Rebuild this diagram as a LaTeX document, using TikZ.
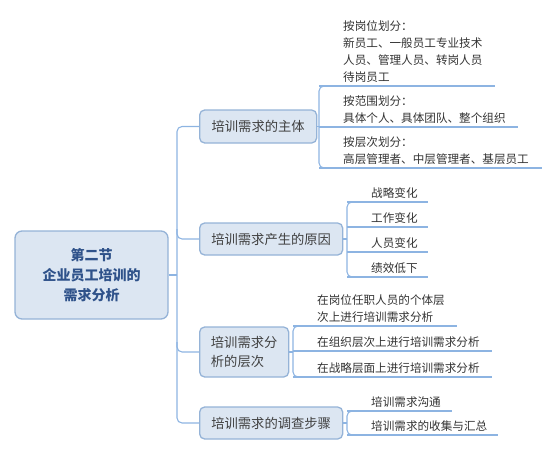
\documentclass[tikz,border=0pt]{standalone}
\usepackage{fontspec}
\setmainfont{Noto Sans CJK SC}
\usetikzlibrary{calc}
\definecolor{lineblue}{HTML}{8DB4E2}
\definecolor{boxfill}{HTML}{DCE6F2}
\definecolor{boxdraw}{HTML}{95B3D7}
\definecolor{titletext}{HTML}{2F528A}
\begin{document}
\begin{tikzpicture}[x=1pt,y=-1pt,
 conn/.style={draw=lineblue, line width=1.1pt, rounded corners=5pt},
 root/.style={draw=boxdraw, fill=boxfill, line width=1.3pt, rounded corners=7pt, minimum width=153pt, minimum height=88pt, align=center, font=\fontsize{14}{20}\selectfont\bfseries, text=titletext, inner sep=0pt},
 branch/.style={draw=boxdraw, fill=boxfill, line width=1.3pt, rounded corners=5pt, anchor=west, inner sep=0pt, font=\fontsize{13.3}{19}\selectfont, text=black!75},
 leaf/.style={anchor=south west, inner xsep=0pt, inner ysep=3pt, align=left, font=\fontsize{11.6}{17}\selectfont, text=black!80},
]
\useasboundingbox (0,0) rectangle (556,455);
% root
\node[root] (root) at (91.5,275) {第二节\\企业员工培训的\\需求分析};
% branches
\node[branch, minimum width=117pt, minimum height=33pt] (n1) at (199,126.5) {培训需求的主体};
\node[branch, minimum width=143pt, minimum height=32pt] (n2) at (199,239) {培训需求产生的原因};
\node[branch, minimum width=89pt, minimum height=50pt, align=left] (n3) at (199,352) {培训需求分\\析的层次};
\node[branch, minimum width=143pt, minimum height=32pt] (n4) at (199,423) {培训需求的调查步骤};
% trunk
\coordinate (tx) at (177,0);
\draw[conn] (root.east) -- (root.east -| tx);
\draw[conn] (n1.west) -- (n1.west -| tx) -- (n4.west -| tx) -- (n4.west);
\draw[conn] ($(n2.west -| tx)+(0,-10)$) -- (n2.west -| tx) -- (n2.west);
\draw[conn] ($(n3.west -| tx)+(0,-10)$) -- (n3.west -| tx) -- (n3.west);
% leaves of n1
\node[leaf, text width=152pt] (a1) at (343,86) {按岗位划分：\\新员工、一般员工专业技术\\人员、管理人员、转岗人员\\待岗员工};
\node[leaf, text width=175pt] (a2) at (343,127) {按范围划分：\\具体个人、具体团队、整个组织};
\node[leaf, text width=199pt] (a3) at (343,168) {按层次划分：\\高层管理者、中层管理者、基层员工};
\coordinate (b1) at ($(a1.south west)+(-24,0)$);
\foreach \n in {a1,a2,a3} \draw[conn] ($(\n.south west)+(-24,0)$) -- (\n.south east);
\draw[conn] ($(a1.south west)+(-12,0)$) -- (b1) -- ($(a3.south west)+(-24,0)$) -- ($(a3.south west)+(-12,0)$);
\draw[conn] (n1.east) -- (n1.east -| b1);
% leaves of n2
\node[leaf, text width=57pt] (c1) at (371,202) {战略变化};
\node[leaf, text width=57pt] (c2) at (371,227) {工作变化};
\node[leaf, text width=57pt] (c3) at (371,252) {人员变化};
\node[leaf, text width=57pt] (c4) at (371,277) {绩效低下};
\coordinate (b2) at ($(c1.south west)+(-24,0)$);
\foreach \n in {c1,c2,c3,c4} \draw[conn] ($(\n.south west)+(-24,0)$) -- (\n.south east);
\draw[conn] ($(c1.south west)+(-12,0)$) -- (b2) -- ($(c4.south west)+(-24,0)$) -- ($(c4.south west)+(-12,0)$);
\draw[conn] (n2.east) -- (n2.east -| b2);
% leaves of n3
\node[leaf, text width=140pt] (d1) at (317,326) {在岗位任职人员的个体层\\次上进行培训需求分析};
\node[leaf, text width=175pt] (d2) at (317,351) {在组织层次上进行培训需求分析};
\node[leaf, text width=175pt] (d3) at (317,377) {在战略层面上进行培训需求分析};
\coordinate (b3) at ($(d1.south west)+(-24,0)$);
\foreach \n in {d1,d2,d3} \draw[conn] ($(\n.south west)+(-24,0)$) -- (\n.south east);
\draw[conn] ($(d1.south west)+(-12,0)$) -- (b3) -- ($(d3.south west)+(-24,0)$) -- ($(d3.south west)+(-12,0)$);
\draw[conn] (n3.east) -- (n3.east -| b3);
% leaves of n4
\node[leaf, text width=81pt] (e1) at (371,411) {培训需求沟通};
\node[leaf, text width=127pt] (e2) at (371,435) {培训需求的收集与汇总};
\coordinate (b4) at ($(e1.south west)+(-24,0)$);
\foreach \n in {e1,e2} \draw[conn] ($(\n.south west)+(-24,0)$) -- (\n.south east);
\draw[conn] ($(e1.south west)+(-12,0)$) -- (b4) -- ($(e2.south west)+(-24,0)$) -- ($(e2.south west)+(-12,0)$);
\draw[conn] (n4.east) -- (n4.east -| b4);
\end{tikzpicture}
\end{document}
